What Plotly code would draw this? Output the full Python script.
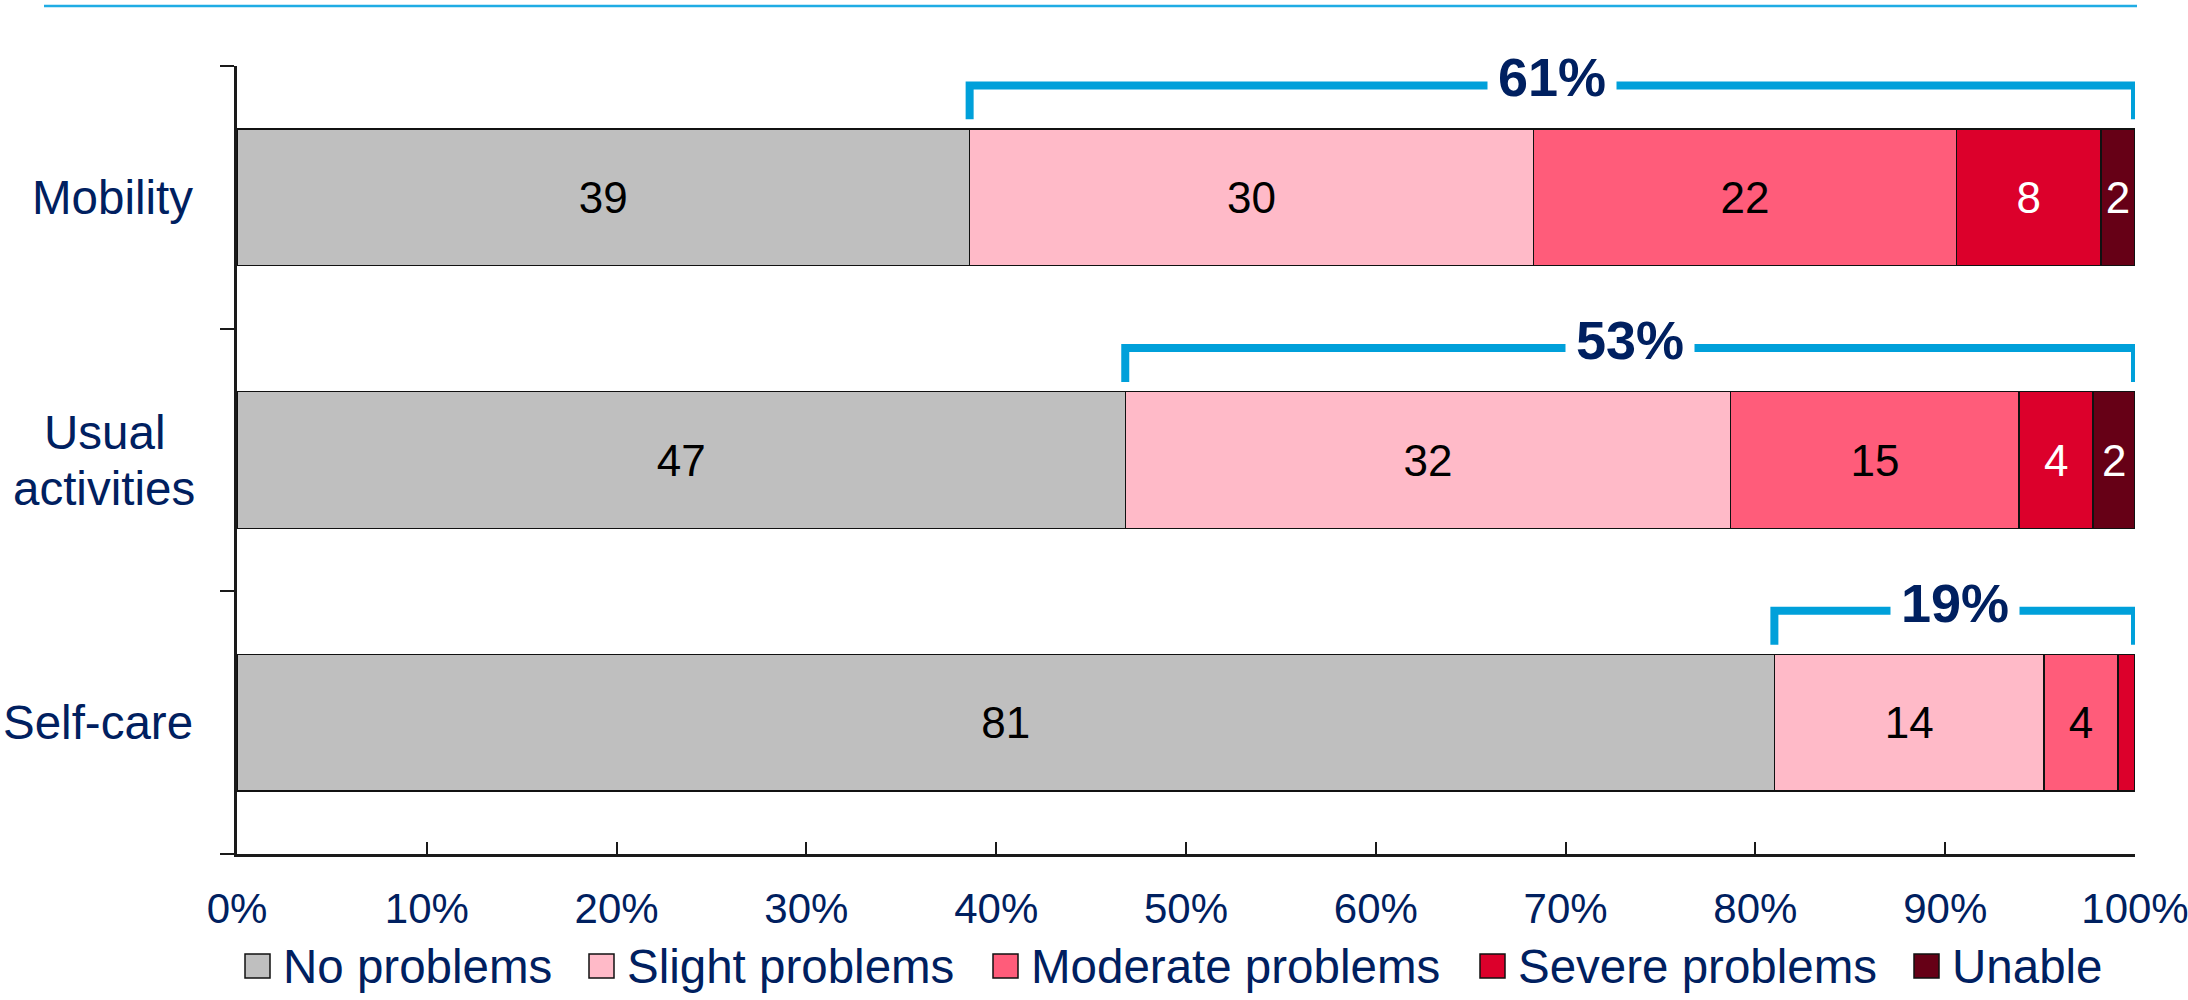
import plotly.graph_objects as go

# Health dimensions (top to bottom) and response levels
categories = ["Mobility", "Usual activities", "Self-care"]
category_labels = ["Mobility", "Usual<br>activities", "Self-care"]
levels = ["No problems", "Slight problems", "Moderate problems", "Severe problems", "Unable"]

# Share of respondents (%) per level, one value per dimension
no_problems = [38.6, 46.8, 81.0]
slight_problems = [29.7, 31.9, 14.2]
moderate_problems = [22.3, 15.2, 3.9]
severe_problems = [7.6, 3.9, 0.9]
unable = [1.8, 2.2, 0.0]

x_ticks = [0, 10, 20, 30, 40, 50, 60, 70, 80, 90, 100]
x_tick_labels = ["0%", "10%", "20%", "30%", "40%", "50%", "60%", "70%", "80%", "90%", "100%"]

series = [no_problems, slight_problems, moderate_problems, severe_problems, unable]
fill_colors = ["#BFBFBF", "#FFBAC8", "#FF5C7A", "#DC002B", "#660016"]
label_colors = ["#000000", "#000000", "#000000", "#FFFFFF", "#FFFFFF"]

NAVY = "#002060"
BRACKET = "#00A0DA"
FONT = "Liberation Sans, Arial, sans-serif"

# Plot-area geometry in pixels, used to place decorations in paper space
W, H = 2188, 1000
L, R, T, B = 237, 53, 66, 146
PW, PH = W - L - R, H - T - B


def px_x(px):
    return (px - L) / PW


def px_y(py):
    return (H - B - py) / PH


rows = list(range(len(categories)))
fig = go.Figure()

for name, vals, fill, tcol in zip(levels, series, fill_colors, label_colors):
    fig.add_trace(go.Bar(
        name=name,
        y=rows,
        x=vals,
        orientation="h",
        width=0.52,
        marker=dict(color=fill, line=dict(color="#111111", width=1.5)),
        text=[f"{v:.0f}" if v >= 1 else "" for v in vals],
        textposition="inside",
        insidetextanchor="middle",
        textangle=0,
        textfont=dict(family=FONT, size=44, color=tcol),
        customdata=categories,
        hovertemplate="%{customdata}<br>" + name + ": %{x:.1f}%<extra></extra>",
        showlegend=False,
    ))

# Brackets spanning everyone reporting any problem
BRACKET_TOP = 0.426
BRACKET_END = 0.297
for i, base in enumerate(no_problems):
    fig.add_trace(go.Scatter(
        x=[base, base, 100, 100],
        y=[i - BRACKET_END, i - BRACKET_TOP, i - BRACKET_TOP, i - BRACKET_END],
        mode="lines",
        line=dict(color=BRACKET, width=8),
        hoverinfo="skip",
        showlegend=False,
    ))
    fig.add_annotation(
        x=(base + 100) / 2, y=i - BRACKET_TOP, xref="x", yref="y",
        text=f"<b>{100 - base:.0f}%</b>", showarrow=False,
        font=dict(family=FONT, size=54, color=NAVY),
        bgcolor="white", borderpad=10, yshift=8,
        xanchor="center", yanchor="middle",
    )

# Dimension names on the left (multi-line names centred, with tight leading)
CAT_FONT = dict(family=FONT, size=47.5, color=NAVY)
LEADING = 56
for i, lab in enumerate(category_labels):
    lines = lab.split("<br>")
    if len(lines) == 1:
        fig.add_annotation(
            x=px_x(195), y=i, xref="paper", yref="y",
            text=lab, showarrow=False,
            xanchor="right", yanchor="middle", font=CAT_FONT,
        )
    else:
        n = len(lines)
        for k, line in enumerate(lines):
            fig.add_annotation(
                x=px_x(104), y=i, xref="paper", yref="y",
                text=line, showarrow=False,
                xanchor="center", yanchor="middle", font=CAT_FONT,
                yshift=-(k - (n - 1) / 2) * LEADING,
            )

# Legend drawn as keys + labels along the bottom
legend_left_px = [245, 589, 993, 1480, 1914]
shapes = []
for name, fill, lx in zip(levels, fill_colors, legend_left_px):
    shapes.append(dict(
        type="rect", xref="paper", yref="paper",
        x0=px_x(lx), x1=px_x(lx + 25), y0=px_y(978), y1=px_y(954),
        fillcolor=fill, line=dict(color="#111111", width=1.5),
    ))
    fig.add_annotation(
        x=px_x(lx + 36), y=px_y(966), xref="paper", yref="paper",
        text=name, showarrow=False, xanchor="left", yanchor="middle",
        font=dict(family=FONT, size=47.5, color=NAVY),
    )

# Rule across the top of the slide
shapes.append(dict(
    type="line", xref="paper", yref="paper",
    x0=px_x(44), x1=px_x(2137), y0=px_y(6), y1=px_y(6),
    line=dict(color="#20ACE4", width=2.5),
))

fig.update_layout(
    width=W, height=H,
    margin=dict(l=L, r=R, t=T, b=B, autoexpand=False),
    barmode="stack",
    plot_bgcolor="white", paper_bgcolor="white",
    uniformtext=dict(minsize=44, mode="show"),
    shapes=shapes,
    showlegend=False,
    xaxis=dict(
        range=[0, 100], tickvals=x_ticks, ticktext=x_tick_labels,
        ticks="inside", ticklen=12, tickwidth=2, tickcolor="#1a1a1a",
        showline=True, linewidth=2.5, linecolor="#1a1a1a",
        showgrid=False, zeroline=False,
        tickfont=dict(family=FONT, size=42, color=NAVY),
        ticklabelstandoff=16,
        ticklabeloverflow="allow",
    ),
    yaxis=dict(
        range=[2.5, -0.5], tickvals=[-0.5, 0.5, 1.5, 2.5],
        showticklabels=False,
        ticks="outside", ticklen=14, tickwidth=2, tickcolor="#1a1a1a",
        showline=True, linewidth=2.5, linecolor="#1a1a1a",
        showgrid=False, zeroline=False,
    ),
)

fig.write_html("out.html")
